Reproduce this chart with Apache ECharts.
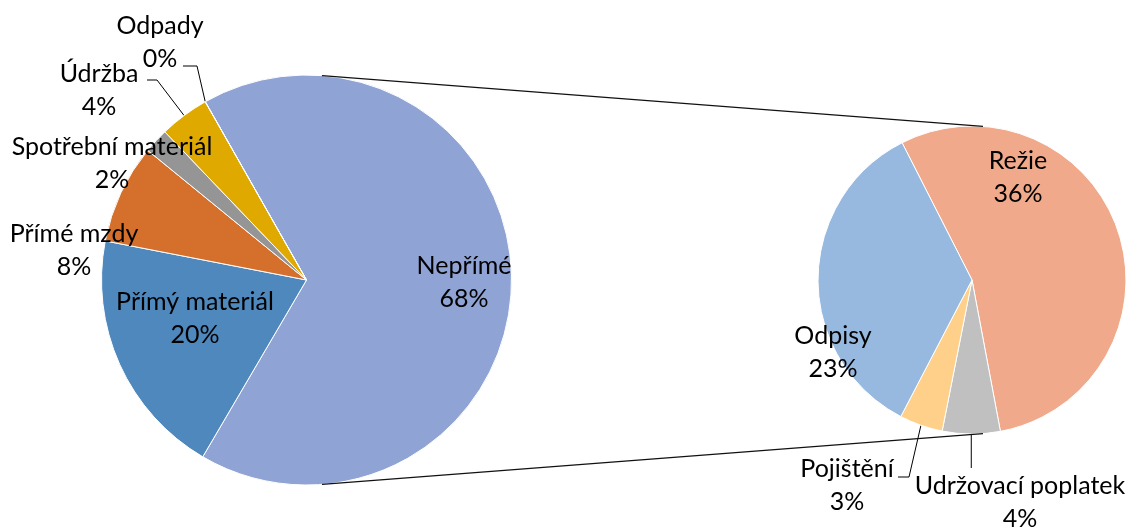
<!DOCTYPE html>
<html>
<head>
<meta charset="utf-8">
<script src="https://cdn.jsdelivr.net/npm/echarts@6/dist/echarts.min.js"></script>
<style>
  html, body { margin: 0; padding: 0; background: #fff; }
  #chart { width: 1129px; height: 528px; }
</style>
</head>
<body>
<div id="chart"></div>
<script>
// hlavni kolac
var leftNames = ['Nepřímé', 'Přímý materiál', 'Přímé mzdy', 'Spotřební materiál', 'Údržba', 'Odpady'];
var leftValues = [68, 20, 8, 2, 4, 0];
// rozpad neprimych nakladu
var rightNames = ['Režie', 'Udržovací poplatek', 'Pojištění', 'Odpisy'];
var rightValues = [36, 4, 3, 23];

var leftColors = ['#8FA3D4', '#4F88BD', '#D46F2C', '#959595', '#E0A900', '#5A6FB8'];
var rightColors = ['#F0A98A', '#C0C0C0', '#FFD08A', '#98B9DF'];

var LEFT = { cx: 306.5, cy: 280, r: 205, start: 119.6 };
var RIGHT = { cx: 972, cy: 280, r: 154, start: 117 };

// umisteni popisku (stred bloku textu) vuci stredu kolace
var labelSpots = {
  'Nepřímé': [157.5, 2],
  'Přímý materiál': [-111.5, 38],
  'Přímé mzdy': [-232.5, -30],
  'Spotřební materiál': [-194.5, -117],
  'Údržba': [-207.5, -190],
  'Odpady': [-146.5, -238],
  'Režie': [46, -103],
  'Odpisy': [-139, 72],
  'Pojištění': [-125, 205],
  'Udržovací poplatek': [48, 222]
};
// lomene odkazove cary: koleno a konec vuci stredu
var leaders = {
  'Odpady': [[-109.5, -214], [-123.5, -214]],
  'Údržba': [[-149.5, -200], [-159.5, -200]],
  'Pojištění': [[-63, 197], [-74, 197]],
  'Udržovací poplatek': [null, [0, 188]]
};

function midPoint(pie, values, idx) {
  var sum = values.reduce(function (a, b) { return a + b; }, 0);
  var before = 0;
  for (var i = 0; i < idx; i++) before += values[i];
  var ang = pie.start - (before + values[idx] / 2) / sum * 360;
  var rad = ang * Math.PI / 180;
  return [pie.cx + pie.r * Math.cos(rad), pie.cy - pie.r * Math.sin(rad)];
}

function buildData(names, values, colors) {
  return names.map(function (n, i) {
    return {
      name: n,
      value: values[i],
      itemStyle: { color: colors[i] },
      labelLine: { show: !!leaders[n] }
    };
  });
}

function makeLayout(pie, names, values) {
  return function (params) {
    var name = names[params.dataIndex];
    var spot = labelSpots[name];
    var out = {
      x: pie.cx + spot[0],
      y: pie.cy + spot[1],
      align: 'center',
      verticalAlign: 'middle'
    };
    var ld = leaders[name];
    if (ld) {
      var p0 = midPoint(pie, values, params.dataIndex);
      var end = [ld[1][0] === 0 ? p0[0] : pie.cx + ld[1][0], pie.cy + ld[1][1]];
      var knee = ld[0] ? [pie.cx + ld[0][0], pie.cy + ld[0][1]] : end;
      out.labelLinePoints = [p0, knee, end];
    }
    return out;
  };
}

var labelStyle = {
  show: true,
  position: 'outside',
  fontFamily: 'Lato',
  fontSize: 25,
  lineHeight: 33,
  color: '#000',
  formatter: function (p) { return p.name + '\n' + p.value + '%'; }
};

function connector(a, b) {
  return {
    type: 'line',
    shape: { x1: a[0], y1: a[1], x2: b[0], y2: b[1] },
    style: { stroke: '#111', lineWidth: 1.2 },
    z: 10
  };
}
var offL = 15.5, offR = 11;
var hL = Math.sqrt(LEFT.r * LEFT.r - offL * offL);
var hR = Math.sqrt(RIGHT.r * RIGHT.r - offR * offR);

var chart = echarts.init(document.getElementById('chart'));
var option = {
  backgroundColor: '#fff',
  animation: false,
  graphic: [
    connector([LEFT.cx + offL, LEFT.cy - hL], [RIGHT.cx + offR, RIGHT.cy - hR]),
    connector([LEFT.cx + offL, LEFT.cy + hL], [RIGHT.cx + offR, RIGHT.cy + hR])
  ],
  series: [
    {
      type: 'pie',
      center: [LEFT.cx, LEFT.cy],
      radius: LEFT.r,
      startAngle: LEFT.start,
      clockwise: true,
      avoidLabelOverlap: false,
      minShowLabelAngle: -1,
      itemStyle: { borderColor: '#fff', borderWidth: 1 },
      label: labelStyle,
      labelLine: { lineStyle: { color: '#000', width: 1 } },
      labelLayout: makeLayout(LEFT, leftNames, leftValues),
      emphasis: { disabled: true },
      data: buildData(leftNames, leftValues, leftColors)
    },
    {
      type: 'pie',
      center: [RIGHT.cx, RIGHT.cy],
      radius: RIGHT.r,
      startAngle: RIGHT.start,
      clockwise: true,
      avoidLabelOverlap: false,
      itemStyle: { borderColor: '#fff', borderWidth: 1 },
      label: labelStyle,
      labelLine: { lineStyle: { color: '#000', width: 1 } },
      labelLayout: makeLayout(RIGHT, rightNames, rightValues),
      emphasis: { disabled: true },
      data: buildData(rightNames, rightValues, rightColors)
    }
  ]
};
chart.setOption(option);
</script>
</body>
</html>
